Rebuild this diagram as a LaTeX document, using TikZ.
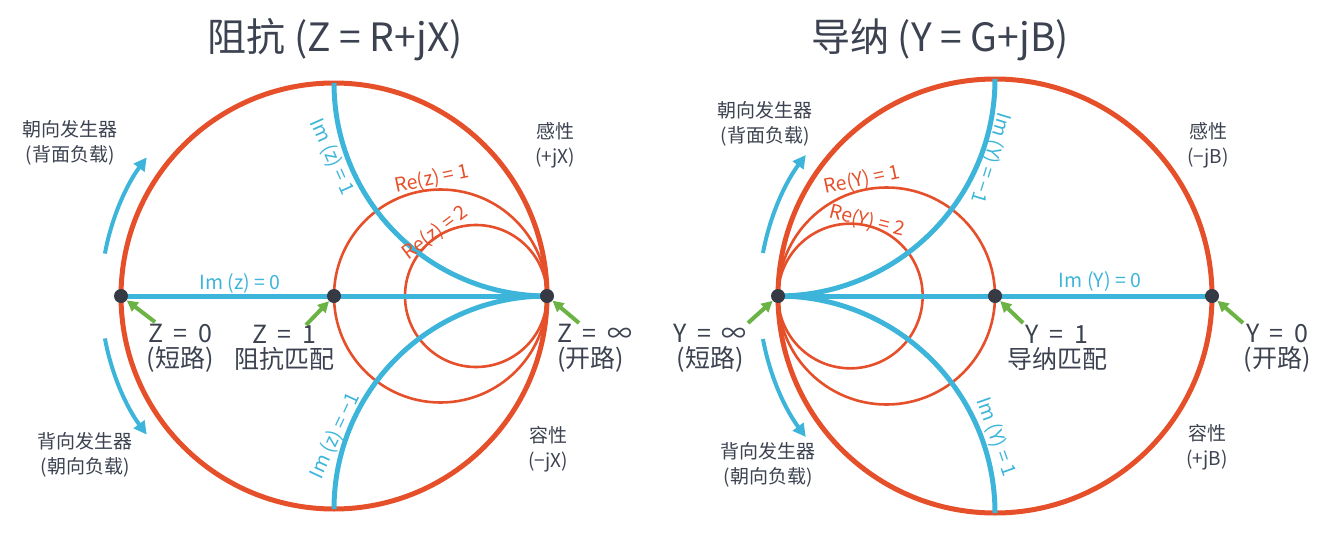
\documentclass[tikz,border=0pt]{standalone}
\usepackage{fontspec}
\setmainfont{Noto Sans CJK SC}
\usetikzlibrary{arrows.meta}
\definecolor{cred}{HTML}{E5502A}
\definecolor{cblue}{HTML}{3DB5DA}
\definecolor{cgreen}{HTML}{6AB344}
\definecolor{cdot}{HTML}{353A44}
\definecolor{ctext}{HTML}{3C4250}
\newcommand\wsp{\hspace{0.42em}}
\begin{document}
\begin{tikzpicture}[x=1pt,y=1pt,
 outer/.style={draw=cred,line width=5pt},
 rcirc/.style={draw=cred,line width=2.6pt},
 imarc/.style={draw=cblue,line width=5pt},
 dirarrow/.style={draw=cblue,line width=4pt,-{Triangle[length=13pt,width=13pt]}},
 ptr/.style={draw=cgreen,line width=4pt,-{Triangle[length=11pt,width=11pt]}},
 dotnode/.style={circle,fill=cdot,inner sep=0pt,minimum size=14pt},
 title/.style={text=ctext,font=\fontsize{39}{42}\selectfont},
 big/.style={text=ctext,font=\fontsize{25}{25}\selectfont,align=center,inner sep=0pt},
 small/.style={text=ctext,font=\fontsize{19}{25}\selectfont,align=center,inner sep=0pt},
 blab/.style={text=cblue,font=\fontsize{19.5}{20}\selectfont,inner sep=0pt},
 rlab/.style={text=cred,font=\fontsize{19.5}{20}\selectfont,inner sep=0pt},
]
\useasboundingbox (0,0) rectangle (1323,-546);
% centres
\coordinate (LC) at (334,-296);
\coordinate (RC) at (995,-296);

% ---------- left chart ----------
\draw[rcirc] (440.5,-296) circle (106.5);
\draw[rcirc] (476,-296) circle (71);
\draw[outer] (LC) circle (213);
\draw[imarc] (334,-83) arc[start angle=180,end angle=270,radius=213];
\draw[imarc] (334,-509) arc[start angle=180,end angle=90,radius=213];
\draw[imarc] (121,-296) -- (547,-296);
\node[dotnode] (z0) at (121,-296) {};
\node[dotnode] (z1) at (334,-296) {};
\node[dotnode] (zi) at (547,-296) {};

\draw[dirarrow] ([shift={(169.5:233)}]LC) arc[start angle=169.5,end angle=143.5,radius=233];
\draw[dirarrow] ([shift={(-169.5:233)}]LC) arc[start angle=-169.5,end angle=-143.5,radius=233];

\coordinate (gz0) at (155,-322);
\coordinate (gz1) at (306,-325);
\coordinate (gzi) at (579,-323);
\draw[ptr] (gz0) -- (z0);
\draw[ptr] (gz1) -- (z1);
\draw[ptr] (gzi) -- (zi);

\node[title] (tl) at (335,-40) {阻抗 (Z = R+jX)};
\node[blab] (im0) at (240,-283) {Im (z) = 0};
\node[blab,rotate=-66] (im1) at (332,-157) {Im (z) = 1};
\node[blab,rotate=65] (imm1) at (335,-436) {Im (z) = −1};
\node[rlab,rotate=12] (re1) at (432,-179) {Re(z) = 1};
\node[rlab,rotate=37] (re2) at (435,-233) {Re(z) = 2};

\node[big] (lz0) at (180,-348) {Z\wsp=\wsp 0\\(短路)};
\node[big] (lz1) at (284,-348) {Z\wsp=\wsp 1\\阻抗匹配};
\node[big,align=left,anchor=west] (lzi) at (557,-348) {Z\wsp=\wsp ∞\\(开路)};

\node[small] (lt1) at (70,-143) {朝向发生器\\(背面负载)};
\node[small] (lt2) at (85,-455) {背向发生器\\(朝向负载)};
\node[small] (lt3) at (555,-145) {感性\\(+jX)};
\node[small] (lt4) at (548,-449) {容性\\(−jX)};

% ---------- right chart ----------
\draw[rcirc] (886.5,-296) circle (108.5);
\draw[rcirc] (850.33,-296) circle (72.33);
\draw[outer] (RC) circle (217);
\draw[imarc] (995,-79) arc[start angle=0,end angle=-90,radius=217];
\draw[imarc] (995,-513) arc[start angle=0,end angle=90,radius=217];
\draw[imarc] (778,-296) -- (1212,-296);
\node[dotnode] (yi) at (778,-296) {};
\node[dotnode] (y1) at (995,-296) {};
\node[dotnode] (y0) at (1212,-296) {};

\draw[dirarrow] ([shift={(169.5:236)}]RC) arc[start angle=169.5,end angle=143.3,radius=236];
\draw[dirarrow] ([shift={(-169.5:236)}]RC) arc[start angle=-169.5,end angle=-143.3,radius=236];

\coordinate (gyi) at (748,-323);
\coordinate (gy1) at (1023,-323);
\coordinate (gy0) at (1243,-323);
\draw[ptr] (gyi) -- (yi);
\draw[ptr] (gy1) -- (y1);
\draw[ptr] (gy0) -- (y0);

\node[title] (tr) at (940,-40) {导纳 (Y = G+jB)};
\node[blab] (imy0) at (1100,-281) {Im (Y) = 0};
\node[blab,rotate=-107] (imym1) at (991,-158) {Im (Y) = −1};
\node[blab,rotate=-70.6] (imy1) at (996,-437) {Im (Y) = 1};
\node[rlab,rotate=12] (rey1) at (862,-180) {Re(Y) = 1};
\node[rlab,rotate=-14] (rey2) at (867,-221) {Re(Y) = 2};

\node[big] (lyi) at (710,-348) {Y\wsp=\wsp ∞\\(短路)};
\node[big] (ly1) at (1057,-348) {Y\wsp=\wsp 1\\导纳匹配};
\node[big] (ly0) at (1277,-348) {Y\wsp=\wsp 0\\(开路)};

\node[small] (rt1) at (765,-124) {朝向发生器\\(背面负载)};
\node[small] (rt2) at (768,-465) {背向发生器\\(朝向负载)};
\node[small] (rt3) at (1208,-145) {感性\\(−jB)};
\node[small] (rt4) at (1207,-447) {容性\\(+jB)};
\end{tikzpicture}
\end{document}
